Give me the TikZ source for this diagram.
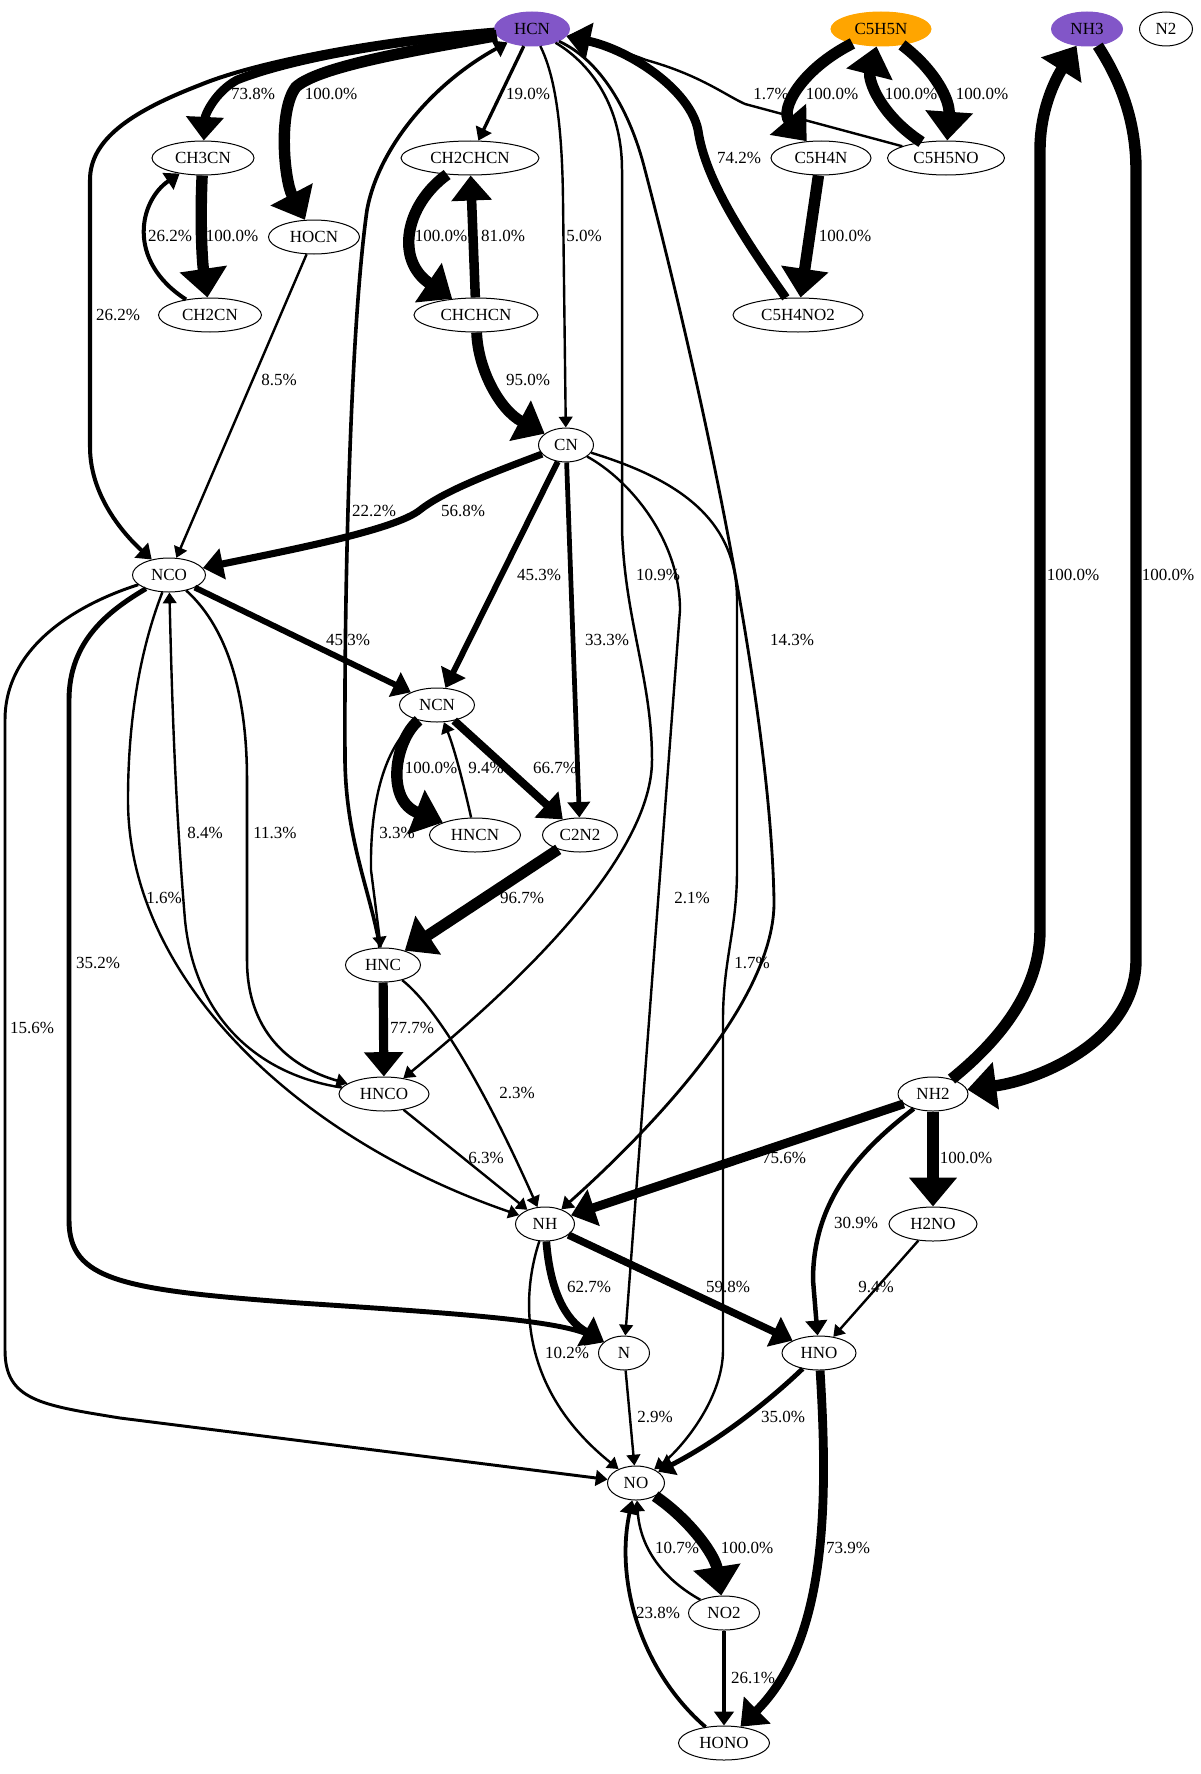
\documentclass[tikz,border=0pt]{standalone}
\usepackage{fontspec}
\setmainfont{Liberation Serif}
\usetikzlibrary{shapes.geometric, arrows.meta}
\definecolor{hcnpurple}{RGB}{130,86,200}
\definecolor{pyrorange}{RGB}{255,165,0}
\tikzset{
  sp/.style={ellipse, draw, line width=1pt, inner sep=0pt, minimum width=#1pt, minimum height=34pt, font=\fontsize{17}{17}\selectfont},
  e/.style={line width={max(2.4,1.4+0.1*#1)*1pt}, -{Triangle[length=6pt 2, width=5pt 3.6]}},
  lab/.style={inner sep=0pt, font=\fontsize{17}{17}\selectfont}
}
\begin{document}
\begin{tikzpicture}[x=1pt, y=-1pt]
\useasboundingbox (0,0) rectangle (1200,1774);

%species
\node[sp=75, fill=hcnpurple, draw=hcnpurple] (HCN) at (532,29) {HCN};
\node[sp=100, fill=pyrorange, draw=pyrorange] (C5H5N) at (881,29) {C5H5N};
\node[sp=71, fill=hcnpurple, draw=hcnpurple] (NH3) at (1087,29) {NH3};
\node[sp=53] (N2) at (1166,29) {N2};
\node[sp=102] (CH3CN) at (203,158) {CH3CN};
\node[sp=138] (CH2CHCN) at (470,158) {CH2CHCN};
\node[sp=100] (C5H4N) at (821,158) {C5H4N};
\node[sp=117] (C5H5NO) at (946,158) {C5H5NO};
\node[sp=91] (HOCN) at (314,237) {HOCN};
\node[sp=103] (CH2CN) at (210,315) {CH2CN};
\node[sp=124] (CHCHCN) at (476,315) {CHCHCN};
\node[sp=130] (C5H4NO2) at (798,315) {C5H4NO2};
\node[sp=55] (CN) at (566,445) {CN};
\node[sp=73] (NCO) at (169,575) {NCO};
\node[sp=75] (NCN) at (437,705) {NCN};
\node[sp=91] (HNCN) at (475,835) {HNCN};
\node[sp=75] (C2N2) at (580,835) {C2N2};
\node[sp=75] (HNC) at (383,965) {HNC};
\node[sp=90] (HNCO) at (384,1094) {HNCO};
\node[sp=70] (NH2) at (933,1094) {NH2};
\node[sp=59] (NH) at (545,1224) {NH};
\node[sp=88] (H2NO) at (933,1224) {H2NO};
\node[sp=51] (N) at (624,1353) {N};
\node[sp=74] (HNO) at (819,1353) {HNO};
\node[sp=57] (NO) at (636,1483) {NO};
\node[sp=71] (NO2) at (724,1613) {NO2};
\node[sp=91] (HONO) at (724,1743) {HONO};

%from HCN
\draw[e=73.8] (HCN) .. controls (420,38) and (300,55) .. (237,80) .. controls (215,92) and (205,115) .. (CH3CN);
\draw[e=100] (HCN) .. controls (430,48) and (320,65) .. (296,87) .. controls (278,110) and (284,180) .. (HOCN);
\draw[e=26.2] (HCN) .. controls (400,35) and (260,60) .. (200,85) .. controls (130,112) and (90,140) .. (90,180) -- (90,447) .. controls (90,500) and (130,540) .. (NCO);
\draw[e=19] (HCN) -- (CH2CHCN);
\draw[e=5] (HCN) .. controls (552,70) and (562,110) .. (563,200) -- (CN);
\draw[e=22.2] (HNC) .. controls (370,890) and (346,840) .. (345,760) .. controls (344,600) and (350,330) .. (367,210) .. controls (378,150) and (430,85) .. (HCN);
\draw[e=10.9] (HCN) .. controls (585,60) and (622,100) .. (622,170) -- (622,530) .. controls (625,620) and (652,680) .. (652,760) .. controls (652,840) and (560,950) .. (HNCO);
\draw[e=14.3] (HCN) .. controls (600,60) and (630,110) .. (645,170) .. controls (700,380) and (770,700) .. (774,900) .. controls (776,1000) and (650,1130) .. (NH);

%nitriles
\draw[e=100] (CH3CN) .. controls (200,220) and (202,260) .. (CH2CN);
\draw[e=26.2] (CH2CN) .. controls (125,260) and (140,200) .. (CH3CN);
\draw[e=8.5] (HOCN) -- (NCO);
\draw[e=100] (CH2CHCN) .. controls (405,205) and (395,260) .. (CHCHCN);
\draw[e=81] (CHCHCN) -- (CH2CHCN);
\draw[e=95] (CHCHCN) .. controls (478,370) and (500,410) .. (CN);

%pyridine
\draw[e=100] (C5H5N) .. controls (800,70) and (780,110) .. (C5H4N);
\draw[e=100] (C5H5NO) .. controls (880,115) and (868,80) .. (C5H5N);
\draw[e=100] (C5H5N) .. controls (935,70) and (950,100) .. (C5H5NO);
\draw[e=100] (C5H4N) -- (C5H4NO2);
\draw[e=74.2] (C5H4NO2) .. controls (745,240) and (705,180) .. (698,130) .. controls (690,90) and (630,50) .. (HCN);
\draw[e=1.7] (C5H5NO) -- (745,104) .. controls (725,95) and (700,75) .. (646,60) .. controls (620,50) and (590,40) .. (HCN);

%ammonia
\draw[e=100] (NH2) .. controls (1000,1040) and (1040,990) .. (1040,930) -- (1040,150) .. controls (1040,110) and (1055,80) .. (NH3);
\draw[e=100] (NH3) .. controls (1120,80) and (1136,120) .. (1136,170) -- (1136,960) .. controls (1136,1040) and (1040,1080) .. (NH2);

%from CN
\draw[e=56.8] (CN) .. controls (500,470) and (445,490) .. (420,510) .. controls (395,530) and (290,550) .. (NCO);
\draw[e=45.3] (CN) -- (NCN);
\draw[e=33.3] (CN) -- (C2N2);
\draw[e=2.1] (CN) .. controls (630,480) and (680,540) .. (680,610) -- (N);
\draw[e=1.7] (CN) .. controls (680,480) and (737,520) .. (737,600) -- (737,870) .. controls (737,930) and (723,960) .. (723,1020) -- (723,1350) .. controls (723,1400) and (680,1450) .. (NO);

%from NCO
\draw[e=45.3] (NCO) -- (NCN);
\draw[e=15.6] (NCO) .. controls (90,600) and (5,640) .. (5,720) -- (5,1350) .. controls (5,1400) and (40,1405) .. (120,1418) -- (NO);
\draw[e=35.2] (NCO) .. controls (110,610) and (69,640) .. (69,700) -- (69,1220) .. controls (69,1280) and (120,1290) .. (300,1303) .. controls (450,1313) and (560,1320) .. (N);
\draw[e=1.6] (NCO) .. controls (140,650) and (128,720) .. (128,800) .. controls (128,980) and (300,1140) .. (NH);
\draw[e=8.4] (HNCO) .. controls (260,1075) and (195,1020) .. (185,920) .. controls (175,800) and (172,700) .. (NCO);
\draw[e=11.3] (NCO) .. controls (230,630) and (247,700) .. (247,780) -- (247,960) .. controls (247,1040) and (300,1070) .. (HNCO);

%from NCN
\draw[e=100] (NCN) .. controls (395,740) and (385,800) .. (HNCN);
\draw[e=9.4] (HNCN) .. controls (465,790) and (455,750) .. (NCN);
\draw[e=66.7] (NCN) -- (C2N2);
\draw[e=3.3] (NCN) .. controls (385,745) and (370,800) .. (371,870) -- (HNC);
\draw[e=96.7] (C2N2) -- (HNC);
\draw[e=77.7] (HNC) -- (HNCO);
\draw[e=2.3] (HNC) .. controls (440,1010) and (490,1100) .. (NH);
\draw[e=6.3] (HNCO) -- (NH);

%NH2, NH
\draw[e=75.6] (NH2) -- (NH);
\draw[e=100] (NH2) -- (H2NO);
\draw[e=30.9] (NH2) .. controls (860,1150) and (813,1200) .. (813,1280) -- (HNO);
\draw[e=9.4] (H2NO) -- (HNO);
\draw[e=62.7] (NH) .. controls (550,1290) and (565,1320) .. (N);
\draw[e=59.8] (NH) -- (HNO);
\draw[e=10.2] (NH) .. controls (520,1300) and (520,1390) .. (NO);

%NO
\draw[e=2.9] (N) -- (NO);
\draw[e=35] (HNO) .. controls (770,1400) and (720,1440) .. (NO);
\draw[e=73.9] (HNO) .. controls (828,1500) and (828,1640) .. (HONO);
\draw[e=100] (NO) .. controls (690,1520) and (715,1555) .. (NO2);
\draw[e=10.7] (NO2) .. controls (665,1580) and (640,1550) .. (NO);
\draw[e=26.1] (NO2) -- (HONO);
\draw[e=23.8] (HONO) .. controls (640,1670) and (615,1580) .. (NO);

%labels
\foreach \x/\y/\t [count=\i] in {253/94/73.8, 331/94/100.0, 528/94/19.0, 170/236/26.2, 232/236/100.0,
  441/236/100.0, 503/236/81.0, 584/236/5.0, 118/315/26.2, 771/94/1.7, 832/94/100.0, 911/94/100.0,
  982/94/100.0, 739/158/74.2, 845/236/100.0, 279/380/8.5, 528/380/95.0, 374/511/22.2, 463/511/56.8,
  539/575/45.3, 348/640/45.3, 607/640/33.3, 431/768/100.0, 486/768/9.4, 555/768/66.7, 658/575/10.9,
  792/640/14.3, 1073/575/100.0, 1168/575/100.0, 205/833/8.4, 275/833/11.3, 397/833/3.3, 164/898/1.6,
  522/898/96.7, 98/963/35.2, 32/1028/15.6, 412/1028/77.7, 517/1093/2.3, 486/1158/6.3, 692/898/2.1,
  752/963/1.7, 784/1158/75.6, 966/1158/100.0, 856/1223/30.9, 589/1287/62.7, 728/1287/59.8,
  876/1287/9.4, 567/1353/10.2, 655/1417/2.9, 783/1417/35.0, 677/1548/10.7, 747/1548/100.0,
  848/1548/73.9, 658/1613/23.8, 753/1678/26.1}
  \node[lab] (lab\i) at (\x,\y) {\t\%};
\end{tikzpicture}
\end{document}
